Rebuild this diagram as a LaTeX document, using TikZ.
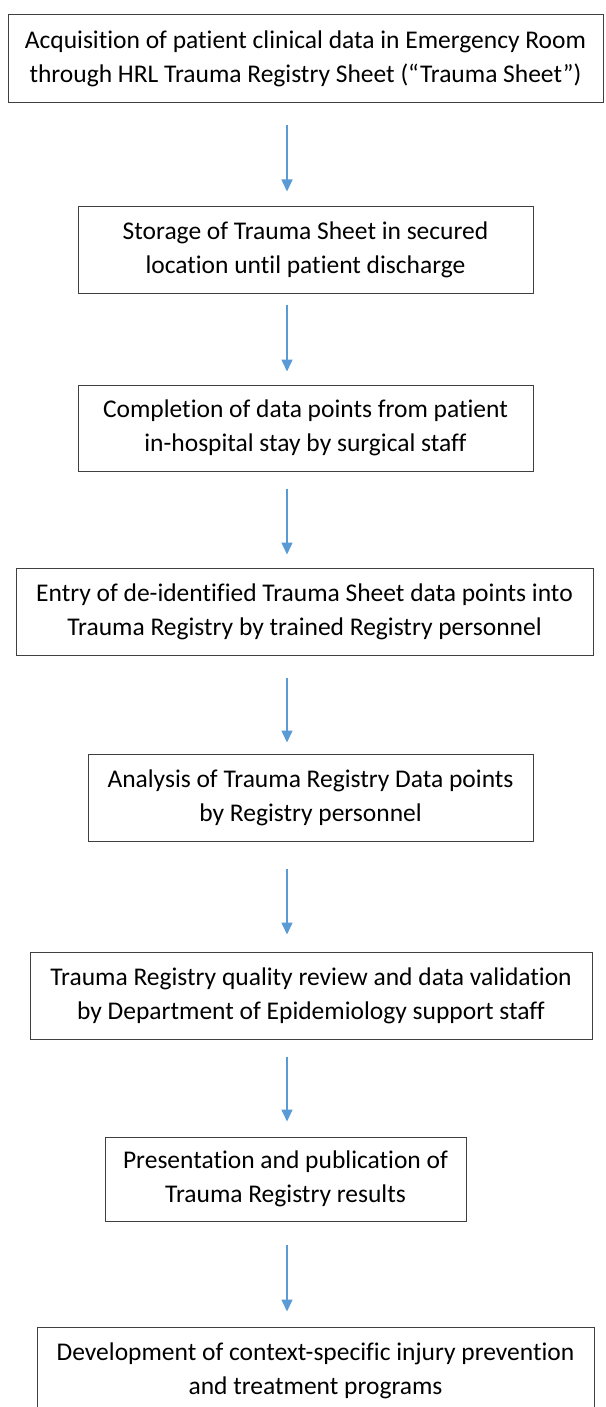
\documentclass[tikz,border=0pt]{standalone}
\usepackage{fontspec}
\setmainfont{Carlito}[Ligatures=NoCommon]
\usetikzlibrary{arrows.meta}
\definecolor{boxline}{HTML}{404040}
\definecolor{arrowblue}{HTML}{5B9BD5}
\tikzset{
  flowbox/.style={draw=boxline, line width=1pt, fill=white, inner sep=0pt, align=center,
    font=\fontsize{25.5}{34}\selectfont, text=black},
  flowarrow/.style={draw=arrowblue, line width=1.5pt, -{Triangle[width=11pt,length=12pt]}}
}
\begin{document}
\begin{tikzpicture}[x=1pt,y=-1pt]
\useasboundingbox (0,0) rectangle (605,1407);
\clip (0,0) rectangle (605,1407);
\fill[white] (0,0) rectangle (605,1407);
\coordinate (ax) at (287,0);
\node[flowbox, minimum width=595pt, minimum height=88pt] (b1) at (305.5,59)
  {Acquisition of patient clinical data in Emergency Room\\through HRL Trauma Registry Sheet (“Trauma Sheet”)};
\node[flowbox, minimum width=455pt, minimum height=87pt] (b2) at (305.5,249.5)
  {Storage of Trauma Sheet in secured\\location until patient discharge};
\node[flowbox, minimum width=455pt, minimum height=86pt] (b3) at (305.5,428)
  {Completion of data points from patient\\in-hospital stay by surgical staff};
\node[flowbox, minimum width=577pt, minimum height=87pt] (b4) at (304.5,611.5)
  {Entry of de-identified Trauma Sheet data points into\\Trauma Registry by trained Registry personnel};
\node[flowbox, minimum width=445pt, minimum height=87pt] (b5) at (310.5,797.5)
  {Analysis of Trauma Registry Data points\\by Registry personnel};
\node[flowbox, minimum width=562pt, minimum height=87pt] (b6) at (311,995.5)
  {Trauma Registry quality review and data validation\\by Department of Epidemiology support staff};
\node[flowbox, minimum width=361pt, minimum height=84pt] (b7) at (285.5,1179)
  {Presentation and publication of\\Trauma Registry results};
\node[flowbox, minimum width=557pt, minimum height=88pt] (b8) at (315.5,1371)
  {Development of context-specific injury prevention\\and treatment programs};
\draw[flowarrow, shorten <=22pt, shorten >=14pt] (b1.south -| ax) -- (b2.north -| ax);
\draw[flowarrow, shorten <=11pt, shorten >=13pt] (b2.south -| ax) -- (b3.north -| ax);
\draw[flowarrow, shorten <=17pt, shorten >=13pt] (b3.south -| ax) -- (b4.north -| ax);
\draw[flowarrow, shorten <=22pt, shorten >=11pt] (b4.south -| ax) -- (b5.north -| ax);
\draw[flowarrow, shorten <=27pt, shorten >=17pt] (b5.south -| ax) -- (b6.north -| ax);
\draw[flowarrow, shorten <=17pt, shorten >=15pt] (b6.south -| ax) -- (b7.north -| ax);
\draw[flowarrow, shorten <=23pt, shorten >=15pt] (b7.south -| ax) -- (b8.north -| ax);
\end{tikzpicture}
\end{document}
